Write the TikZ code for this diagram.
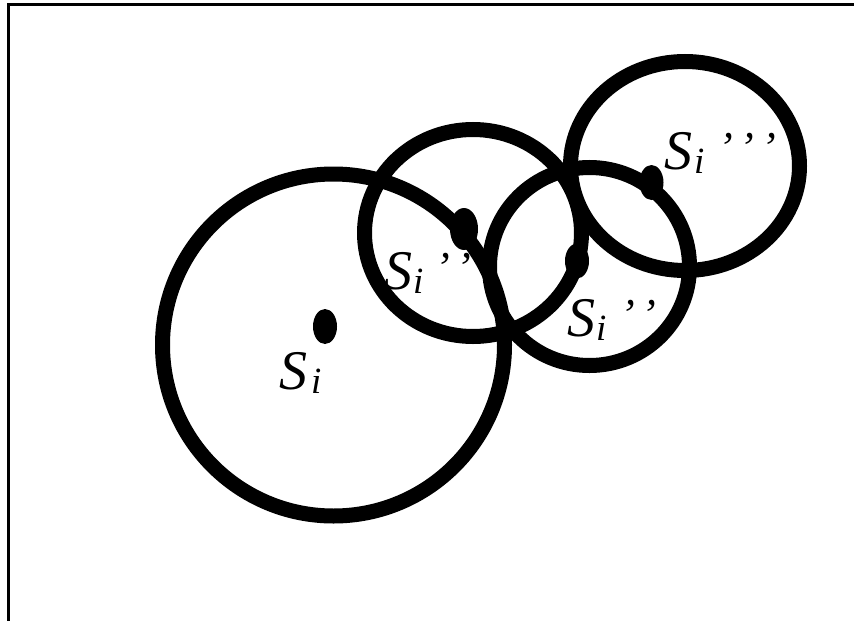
\documentclass[tikz,border=0pt]{standalone}
\usepackage{fontspec}
\setmainfont{Liberation Serif}
\begin{document}
\begin{tikzpicture}[x=1pt,y=-1pt,
  ring/.style={line width=15pt},
  cdot/.style={fill=black},
  frameline/.style={line width=3pt, line join=miter},
  bigS/.style={font=\fontsize{56}{56}\selectfont\itshape, inner sep=0pt, anchor=base west},
  subi/.style={font=\fontsize{37}{37}\selectfont\itshape, inner sep=0pt, anchor=base west},
  prm/.style={font=\fontsize{44}{44}\selectfont\itshape, inner sep=0pt, anchor=base west}]
\useasboundingbox (0,0) rectangle (854,621);
% frame
\coordinate (tl) at (8.5,4.7);
\coordinate (tr) at (856,4.7);
\coordinate (bl) at (8.5,623);
\draw[frameline] (tr) -- (tl) -- (bl);
% labels
\node[bigS] (sA) at (279,389) {S};
\node[subi] (iA) at (311,393) {i};
\node[bigS] (sB) at (384,289) {S};
\node[subi] (iB) at (413,293) {i};
\node[prm] (pB) at (435,282) {’\kern7pt’};
\node[bigS] (sC) at (567,336) {S};
\node[subi] (iC) at (596,340) {i};
\node[prm] (pC) at (620,329) {’\kern7pt’};
\node[bigS] (sD) at (664,169) {S};
\node[subi] (iD) at (694,173) {i};
\node[prm] (pD) at (718,162) {’\kern7pt’\kern7pt’};
% circles
\coordinate (c1) at (333.5,345);
\coordinate (c2) at (473,233);
\coordinate (c3) at (589.5,266.5);
\coordinate (c4) at (685,166);
\draw[ring] (c1) circle[radius=171pt];
\draw[ring] (c2) ellipse[x radius=108.5pt, y radius=103.5pt];
\draw[ring] (c3) ellipse[x radius=100pt, y radius=99pt];
\draw[ring] (c4) ellipse[x radius=114.5pt, y radius=104.5pt];
% centre dots
\coordinate (d1) at (325,326.5);
\coordinate (d2) at (464,229);
\coordinate (d3) at (577,261);
\coordinate (d4) at (651.5,182.5);
\fill[cdot] (d1) ellipse[x radius=12pt, y radius=17.5pt];
\fill[cdot] (d2) ellipse[x radius=14pt, y radius=21pt];
\fill[cdot] (d3) ellipse[x radius=12pt, y radius=17.5pt];
\fill[cdot] (d4) ellipse[x radius=12pt, y radius=17.5pt];
\end{tikzpicture}
\end{document}
